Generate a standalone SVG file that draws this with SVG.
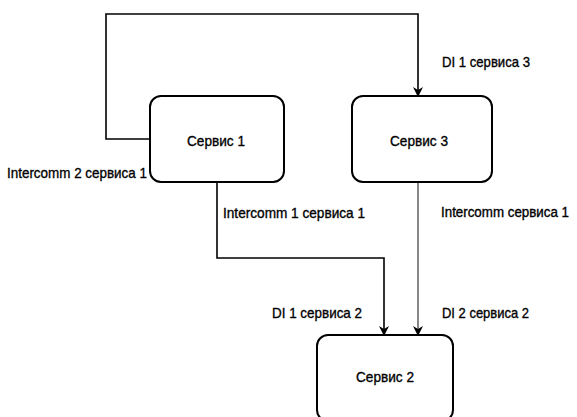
<svg xmlns="http://www.w3.org/2000/svg" width="577" height="417" viewBox="0 0 577 417">
<style>
.box{fill:#fff;stroke:#000;stroke-width:2}
.lbl{font-family:"Liberation Sans",Arial,sans-serif;font-size:15px;fill:#000;stroke:#000;stroke-width:0.35}
.c{fill:none;stroke:#000;stroke-width:1.6}
.g{fill:none;stroke:#555;stroke-width:1.4}
</style>
<defs>
<marker id="ar" viewBox="0 0 10 10" refX="9" refY="5" markerWidth="10" markerHeight="10" markerUnits="userSpaceOnUse" orient="auto">
<path d="M0,0 L10,5 L0,10 L3,5 Z" fill="#000"/>
</marker>
</defs>
<rect width="577" height="417" fill="#fff"/>
<g id="connectors">
<path class="c" d="M150,139 H106 V14 H418 V96" marker-end="url(#ar)"/>
<path class="c" d="M217,182 V258 H384 V335" marker-end="url(#ar)"/>
<path class="g" d="M418,182 V335" marker-end="url(#ar)"/>
<text class="lbl" x="442" y="67" textLength="88" lengthAdjust="spacingAndGlyphs">DI 1 сервиса 3</text>
<text class="lbl" x="7" y="178" textLength="140" lengthAdjust="spacingAndGlyphs">Intercomm 2 сервиса 1</text>
<text class="lbl" x="223" y="218" textLength="142" lengthAdjust="spacingAndGlyphs">Intercomm 1 сервиса 1</text>
<text class="lbl" x="441" y="217" style="font-size:14px" textLength="128" lengthAdjust="spacingAndGlyphs">Intercomm сервиса 1</text>
<text class="lbl" x="272" y="318" textLength="90" lengthAdjust="spacingAndGlyphs">DI 1 сервиса 2</text>
<text class="lbl" x="442" y="318" textLength="87" lengthAdjust="spacingAndGlyphs">DI 2 сервиса 2</text>
</g>
<g id="service1">
<rect class="box" x="150" y="96" width="134" height="86" rx="11"/>
<text class="lbl" x="216" y="146" text-anchor="middle" textLength="58" lengthAdjust="spacingAndGlyphs">Сервис 1</text>
</g>
<g id="service3">
<rect class="box" x="352" y="96" width="140" height="86" rx="11"/>
<text class="lbl" x="419" y="146" text-anchor="middle" textLength="58" lengthAdjust="spacingAndGlyphs">Сервис 3</text>
</g>
<g id="service2">
<rect class="box" x="317" y="335" width="136" height="86" rx="11"/>
<text class="lbl" x="385" y="382" text-anchor="middle" textLength="58" lengthAdjust="spacingAndGlyphs">Сервис 2</text>
</g>
</svg>
